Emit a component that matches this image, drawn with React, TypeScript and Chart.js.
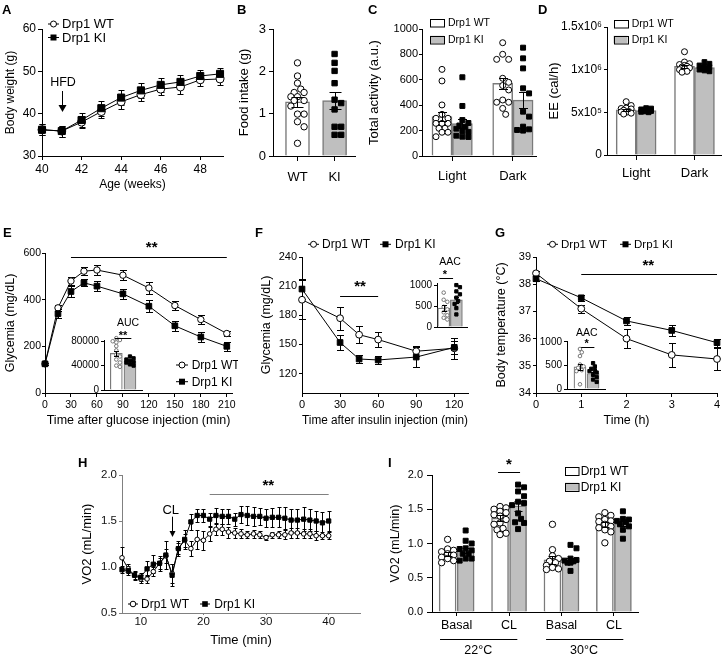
import React, { useEffect, useRef } from "react";
import { Chart, registerables } from "chart.js";

Chart.register(...registerables);

const FONT = "'Liberation Sans', Arial, Helvetica, sans-serif";
Chart.defaults.font.family = FONT;
Chart.defaults.color = "#000";

/* ================= DATA ================= */
// A – body weight
const ageWeeks = [40, 41, 42, 43, 44, 45, 46, 47, 48, 49];
const bodyWeightWT = [36.2, 35.9, 38.0, 40.5, 42.8, 44.5, 45.8, 46.3, 48.0, 48.2];
const bodyWeightWTsem = [1.3, 1.3, 1.4, 1.6, 1.7, 1.6, 1.5, 1.6, 1.4, 1.4];
const bodyWeightKI = [36.2, 35.9, 38.5, 41.3, 43.8, 45.5, 46.8, 47.5, 48.9, 49.4];
const bodyWeightKIsem = [1.3, 1.3, 1.7, 1.8, 1.8, 1.7, 1.6, 1.6, 1.3, 1.4];
const ageTicks = [40, 42, 44, 46, 48];
const bodyWeightTicks = [30, 40, 50, 60];

// B – food intake
const foodGroups = ["WT", "KI"];
const foodMean = [1.28, 1.31];
const foodSem = [0.12, 0.2];
const foodWT = [2.2, 1.89, 1.72, 1.58, 1.5, 1.5, 1.4, 1.4, 1.31, 1.31, 1.18, 0.99, 0.99, 0.81, 0.69, 0.3];
const foodKI = [2.41, 2.2, 2.01, 1.72, 1.33, 1.25, 1.1, 0.69, 0.69, 0.5, 0.5];
const foodTicks = [0, 1, 2, 3];

// C – total activity
const phases = ["Light", "Dark"];
const actMeanWT = [310, 572];
const actSemWT = [35, 45];
const actMeanKI = [255, 440];
const actSemKI = [35, 65];
const actLightWT = [682, 591, 402, 328, 297, 297, 257, 257, 257, 218, 218, 187, 187, 152];
const actLightKI = [620, 394, 283, 260, 240, 230, 215, 197, 190, 160, 152, 150];
const actDarkWT = [892, 801, 761, 761, 612, 580, 555, 520, 441, 423, 423, 375, 328];
const actDarkKI = [853, 769, 690, 533, 493, 349, 310, 231, 210, 205, 200];
const actTicks = [0, 200, 400, 600, 800, 1000];

// D – energy expenditure
const eeMeanWT = [530000, 1040000];
const eeSemWT = [12000, 18000];
const eeMeanKI = [520000, 1025000];
const eeSemKI = [8000, 10000];
const eeLightWT = [625000, 580000, 550000, 545000, 540000, 525000, 510000, 505000, 500000, 490000, 480000];
const eeLightKI = [550000, 545000, 535000, 530000, 520000, 515000, 510000, 505000, 500000];
const eeDarkWT = [1210000, 1090000, 1070000, 1060000, 1050000, 1040000, 1030000, 1020000, 1010000, 1000000, 980000, 970000];
const eeDarkKI = [1090000, 1070000, 1050000, 1040000, 1030000, 1020000, 1010000, 1000000, 990000, 980000];
const eeTicks = [0, 500000, 1000000, 1500000];
const eeTickLabels = ["0", "5x10\u2075", "1x10\u2076", "1.5x10\u2076"];

// E – GTT
const timeGTT = [0, 15, 30, 45, 60, 90, 120, 150, 180, 210];
const gttWT = [125, 365, 480, 522, 527, 505, 450, 375, 315, 255];
const gttWTsem = [5, 14, 18, 18, 20, 22, 25, 20, 18, 12];
const gttKI = [125, 340, 435, 472, 458, 425, 372, 288, 240, 200];
const gttKIsem = [5, 20, 22, 15, 20, 22, 25, 22, 22, 20];
const gttTicksX = [0, 30, 60, 90, 120, 150, 180, 210];
const gttTicksY = [0, 200, 400, 600];
const aucMean = [60000, 47000];
const aucSem = [4500, 2000];
const aucWT = [85000, 82000, 80000, 78000, 72000, 65000, 58000, 55000, 50000, 45000, 40000, 38000];
const aucKI = [55000, 52000, 50000, 48000, 46000, 45000, 42000, 40000];
const aucTicks = [0, 40000, 80000];

// F – ITT
const timeITT = [0, 30, 45, 60, 90, 120];
const ittWT = [196, 177, 160, 155, 143, 146];
const ittWTsem = [20, 12, 9, 8, 5, 11];
const ittKI = [207, 152, 135, 134, 137, 147];
const ittKIsem = [10, 8, 4, 4, 10, 7];
const ittTicksX = [0, 30, 60, 90, 120];
const ittTicksY = [120, 150, 180, 210, 240];
const ittAacMean = [450, 650];
const ittAacSem = [70, 75];
const ittAacWT = [820, 650, 600, 480, 420, 350, 280, 220, 180];
const ittAacKI = [1000, 950, 850, 780, 700, 620, 550, 450, 300];
const aacTicks = [0, 500, 1000];

// G – cold exposure
const timeCold = [0, 1, 2, 3, 4];
const tempWT = [38.4, 37.1, 36.0, 35.4, 35.25];
const tempWTsem = [0.1, 0.15, 0.35, 0.45, 0.4];
const tempKI = [38.2, 37.5, 36.65, 36.3, 35.85];
const tempKIsem = [0.1, 0.12, 0.15, 0.2, 0.15];
const coldTicksX = [0, 1, 2, 3, 4];
const coldTicksY = [34, 35, 36, 37, 38, 39];
const coldAacMean = [470, 330];
const coldAacSem = [70, 40];
const coldAacWT = [850, 780, 700, 520, 480, 450, 400, 380, 100];
const coldAacKI = [550, 480, 430, 400, 380, 350, 300, 250, 200, 150];

// H – VO2 time course
const timeH = [7, 8, 9, 10, 11, 12, 13, 14, 15, 16, 17, 18, 19, 20, 21, 22, 23, 24, 25, 26, 27, 28, 29, 30, 31, 32, 33, 34, 35, 36, 37, 38, 39, 40];
const vo2WT = [1.10, 0.98, 0.91, 0.87, 0.87, 0.95, 1.04, 1.12, 0.93, 1.20, 1.29, 1.20, 1.30, 1.29, 1.36, 1.41, 1.41, 1.38, 1.37, 1.36, 1.35, 1.36, 1.35, 1.32, 1.35, 1.35, 1.35, 1.37, 1.37, 1.36, 1.36, 1.34, 1.34, 1.34];
const vo2WTsem = [0.12, 0.05, 0.04, 0.04, 0.04, 0.05, 0.06, 0.08, 0.1, 0.08, 0.07, 0.08, 0.1, 0.1, 0.08, 0.06, 0.06, 0.06, 0.05, 0.05, 0.04, 0.04, 0.04, 0.03, 0.03, 0.04, 0.05, 0.05, 0.05, 0.05, 0.05, 0.05, 0.04, 0.04];
const vo2KI = [0.97, 0.96, 0.91, 0.89, 0.98, 1.03, 1.04, 1.13, 0.91, 1.20, 1.30, 1.49, 1.56, 1.56, 1.52, 1.56, 1.55, 1.55, 1.52, 1.57, 1.56, 1.55, 1.55, 1.53, 1.54, 1.54, 1.53, 1.51, 1.51, 1.52, 1.51, 1.50, 1.48, 1.50];
const vo2KIsem = [0.04, 0.05, 0.05, 0.04, 0.08, 0.1, 0.08, 0.15, 0.12, 0.06, 0.1, 0.09, 0.07, 0.07, 0.07, 0.08, 0.08, 0.08, 0.07, 0.09, 0.1, 0.1, 0.09, 0.1, 0.1, 0.11, 0.12, 0.12, 0.12, 0.13, 0.12, 0.11, 0.12, 0.11];
const timeHTicks = [10, 20, 30, 40];
const vo2Ticks = [0.5, 1.0, 1.5, 2.0];

// I – VO2 by condition
const conditions = ["Basal", "CL", "Basal", "CL"];
const temperatures = ["22\u00B0C", "30\u00B0C"];
const vo2CondMeanWT = [0.85, 1.37, 0.76, 1.28];
const vo2CondSemWT = [0.03, 0.04, 0.06, 0.04];
const vo2CondMeanKI = [0.9, 1.55, 0.75, 1.29];
const vo2CondSemKI = [0.04, 0.07, 0.04, 0.04];
const basal22WT = [1.06, 0.92, 0.90, 0.88, 0.85, 0.83, 0.80, 0.78, 0.75, 0.72];
const basal22KI = [1.19, 1.04, 1.00, 0.93, 0.92, 0.90, 0.85, 0.85, 0.78, 0.78, 0.75];
const cl22WT = [1.54, 1.52, 1.50, 1.47, 1.45, 1.42, 1.40, 1.35, 1.30, 1.28, 1.22, 1.20, 1.15, 1.13];
const cl22KI = [1.86, 1.82, 1.76, 1.69, 1.61, 1.59, 1.56, 1.44, 1.36, 1.31, 1.30, 1.21];
const basal30WT = [1.28, 0.91, 0.82, 0.78, 0.74, 0.72, 0.68, 0.65, 0.63, 0.62];
const basal30KI = [0.98, 0.93, 0.78, 0.76, 0.75, 0.74, 0.72, 0.72, 0.60];
const cl30WT = [1.45, 1.41, 1.39, 1.35, 1.33, 1.32, 1.28, 1.25, 1.23, 1.20, 1.17, 1.01];
const cl30KI = [1.47, 1.36, 1.35, 1.33, 1.31, 1.28, 1.25, 1.20, 1.07];
const vo2CondTicks = [0, 0.5, 1.0, 1.5, 2.0];

/* ================= LAYOUT ================= */
function geo(area: number[], canvas: number[]) {
  const [l, t, r, b] = area;
  const [cl, ct, cr, cb] = canvas;
  return { cl, ct, cw: cr - cl, ch: cb - ct, yW: l - cl, xH: cb - b, padT: t - ct, padR: cr - r };
}
const GEO: any = {
  A: geo([42, 29, 223, 156], [3, 15, 233, 192]),
  B: geo([273, 29, 355, 156], [237, 15, 361, 190]),
  C: geo([422, 29, 537, 156], [367, 12, 541, 190]),
  D: geo([607, 27, 725, 155], [547, 4, 726, 190]),
  E: geo([45, 253, 232, 393], [3, 225, 238, 428]),
  Ei: geo([104, 340, 142, 390], [66, 314, 150, 398]),
  F: geo([302, 257, 468, 393], [259, 225, 476, 428]),
  Fi: geo([437, 283, 467, 327], [405, 252, 473, 333]),
  G: geo([536, 257, 717, 393], [494, 225, 725, 428]),
  Gi: geo([567, 341, 605, 389], [535, 325, 611, 395]),
  H: geo([122, 475, 360, 613], [80, 455, 364, 648]),
  I: geo([432, 475, 638, 612], [388, 450, 648, 654]),
};

const BAR_BORDER = "#7a7a7a";
const KI_FILL = "#bfbfbf";

/* ================= HELPERS ================= */
function axis(o: any) {
  const col = o.color || "#000";
  return {
    type: "linear",
    min: o.min,
    max: o.max,
    bounds: "data",
    offset: false,
    afterBuildTicks: (s: any) => {
      s.ticks = o.ticks.map((v: number) => ({ value: v }));
    },
    afterFit: (s: any) => {
      if (o.h) s.height = o.fit;
      else s.width = o.fit;
      s.paddingLeft = 0;
      s.paddingRight = 0;
      s.paddingTop = 0;
      s.paddingBottom = 0;
    },
    grid: {
      display: true,
      drawOnChartArea: false,
      drawTicks: o.tl !== 0,
      tickLength: o.tl ?? 4,
      color: col,
      lineWidth: 1,
      offset: false,
    },
    border: { display: true, color: col, width: 1 },
    ticks: {
      display: !o.noLabels,
      autoSkip: false,
      maxRotation: 0,
      minRotation: 0,
      padding: o.pad ?? 2,
      font: { size: o.size || 12 },
      color: o.lc || "#000",
      callback: (v: number, i: number) => {
        if (o.labels) {
          const k = o.ticks.indexOf(v);
          return o.labels[k >= 0 ? k : i];
        }
        return o.fmt ? o.fmt(v) : String(v);
      },
    },
    title: o.title
      ? { display: true, text: o.title, font: { size: o.ts || 12 }, padding: 0, color: "#000" }
      : { display: false },
  };
}

function makeDeco(d: any) {
  const drawErr = (chart: any) => {
    const ctx = chart.ctx;
    const ys = chart.scales.y;
    ctx.save();
    ctx.strokeStyle = d.errColor || "#000";
    ctx.lineWidth = 1;
    chart.data.datasets.forEach((ds: any, di: number) => {
      if (!ds.errorBars) return;
      const meta = chart.getDatasetMeta(di);
      meta.data.forEach((el: any, i: number) => {
        const e = ds.errorBars[i];
        if (e == null) return;
        const v = ds.data[i].y;
        const x = Math.round(el.x) + 0.5;
        const yt = Math.round(ys.getPixelForValue(v + e)) + 0.5;
        const yb = Math.round(ys.getPixelForValue(v - e)) + 0.5;
        const c = d.cap / 2;
        ctx.beginPath();
        ctx.moveTo(x, yt);
        ctx.lineTo(x, yb);
        ctx.moveTo(x - c, yt);
        ctx.lineTo(x + c, yt);
        ctx.moveTo(x - c, yb);
        ctx.lineTo(x + c, yb);
        ctx.stroke();
      });
    });
    ctx.restore();
  };

  const swarm = (chart: any) => {
    chart.data.datasets.forEach((ds: any, di: number) => {
      const sw = ds.swarm;
      if (!sw) return;
      const pts = chart.getDatasetMeta(di).data;
      const order = pts.map((_: any, i: number) => i).sort((a: number, b: number) => pts[a].y - pts[b].y);
      const placed: any[] = [];
      for (const i of order) {
        const p = pts[i];
        const cx = p.x;
        let best = cx;
        let bestScore = -Infinity;
        for (let k = 0; k <= 14; k++) {
          const off = k === 0 ? 0 : (k % 2 ? 1 : -1) * Math.ceil(k / 2) * sw.step;
          if (Math.abs(off) > sw.max) continue;
          const x = cx + off;
          let minD = Infinity;
          for (const q of placed) {
            const dd = Math.hypot(q.x - x, q.y - p.y);
            if (dd < minD) minD = dd;
          }
          if (minD >= sw.d) {
            best = x;
            break;
          }
          if (minD > bestScore) {
            bestScore = minD;
            best = x;
          }
        }
        p.x = best;
        placed.push({ x: best, y: p.y });
      }
    });
  };

  const drawItems = (chart: any) => {
    const ctx = chart.ctx;
    const xs = chart.scales.x;
    const ys = chart.scales.y;
    const X = (it: any, v: number) => (it.xd ? xs.getPixelForValue(v) : v - d.ox);
    const Y = (it: any, v: number) => (it.yd ? ys.getPixelForValue(v) : v - d.oy);
    for (const it of d.items || []) {
      ctx.save();
      if (it.t === "text") {
        const size = it.size || 12;
        ctx.font = `${it.bold ? "bold " : ""}${size}px ${FONT}`;
        ctx.fillStyle = it.color || "#000";
        ctx.textAlign = it.align || "center";
        if (it.star) {
          ctx.textBaseline = "alphabetic";
          ctx.fillText(it.text, X(it, it.x), Y(it, it.y) + 0.56 * size);
        } else {
          ctx.textBaseline = "middle";
          ctx.fillText(it.text, X(it, it.x), Y(it, it.y));
        }
      } else if (it.t === "hline") {
        ctx.strokeStyle = it.color || "#000";
        ctx.lineWidth = it.w || 1;
        const y = Math.round(Y(it, it.y)) + 0.5;
        ctx.beginPath();
        ctx.moveTo(X(it, it.x1), y);
        ctx.lineTo(X(it, it.x2), y);
        ctx.stroke();
      } else if (it.t === "arrow") {
        const x = Math.round(X(it, it.x)) + 0.5;
        const y1 = Y(it, it.y1);
        const y2 = Y(it, it.y2);
        const hl = it.head || 7;
        const hw = it.hw || 4;
        ctx.strokeStyle = "#000";
        ctx.fillStyle = "#000";
        ctx.lineWidth = 1;
        ctx.beginPath();
        ctx.moveTo(x, y1);
        ctx.lineTo(x, y2 - hl + 1);
        ctx.stroke();
        ctx.beginPath();
        ctx.moveTo(x - hw, y2 - hl);
        ctx.lineTo(x + hw, y2 - hl);
        ctx.lineTo(x, y2);
        ctx.closePath();
        ctx.fill();
      } else if (it.t === "lleg") {
        const x = it.x - d.ox;
        const y = it.y - d.oy;
        const L = it.len || 11;
        const r = it.r || 3;
        ctx.strokeStyle = "#000";
        ctx.lineWidth = 1;
        ctx.beginPath();
        ctx.moveTo(x, y);
        ctx.lineTo(x + L, y);
        ctx.stroke();
        const cx = x + L / 2;
        if (it.wt) {
          ctx.beginPath();
          ctx.arc(cx, y, r, 0, Math.PI * 2);
          ctx.fillStyle = "#fff";
          ctx.fill();
          ctx.stroke();
        } else {
          ctx.fillStyle = "#000";
          ctx.fillRect(cx - r, y - r, 2 * r, 2 * r);
        }
        ctx.font = `${it.size || 12}px ${FONT}`;
        ctx.fillStyle = "#000";
        ctx.textAlign = "left";
        ctx.textBaseline = "middle";
        ctx.fillText(it.text, it.tx - d.ox, y + 0.5);
      } else if (it.t === "bleg") {
        const x = it.x - d.ox;
        const y = it.y - d.oy;
        ctx.fillStyle = it.fill;
        ctx.fillRect(x, y - it.h / 2, it.w, it.h);
        ctx.strokeStyle = "#000";
        ctx.lineWidth = 1;
        ctx.strokeRect(Math.round(x) + 0.5, Math.round(y - it.h / 2) + 0.5, it.w, it.h);
        ctx.font = `${it.size || 12}px ${FONT}`;
        ctx.fillStyle = "#000";
        ctx.textAlign = "left";
        ctx.textBaseline = "middle";
        ctx.fillText(it.text, it.tx - d.ox, y + 0.5);
      }
      ctx.restore();
    }
  };

  return {
    id: "deco",
    afterDatasetsUpdate: (chart: any) => swarm(chart),
    beforeDatasetsDraw: (chart: any) => {
      if (!d.errTop) drawErr(chart);
    },
    afterDatasetsDraw: (chart: any) => {
      if (d.errTop) drawErr(chart);
      drawItems(chart);
    },
  };
}

function cfg(g: any, type: string, datasets: any[], xo: any, yo: any, d: any) {
  return {
    type,
    data: { datasets },
    options: {
      responsive: false,
      animation: false,
      events: [],
      devicePixelRatio: 1,
      layout: { padding: { left: 0, top: g.padT, right: g.padR, bottom: 0 } },
      plugins: { legend: { display: false }, tooltip: { enabled: false }, title: { display: false } },
      scales: {
        x: axis({ ...xo, h: true, fit: g.xH }),
        y: axis({ ...yo, h: false, fit: g.yW }),
      },
    },
    plugins: [makeDeco({ cap: 6, errTop: false, items: [], ...d, ox: g.cl, oy: g.ct })],
  };
}

function lineSet(xs: number[], ys: number[], sem: number[], wt: boolean, r: number, lw = 1) {
  return {
    type: "line",
    data: xs.map((x, i) => ({ x, y: ys[i] })),
    errorBars: sem,
    borderColor: "#000",
    borderWidth: lw,
    pointStyle: wt ? "circle" : "rect",
    pointRadius: r,
    pointHoverRadius: r,
    pointBorderColor: "#000",
    pointBackgroundColor: wt ? "#fff" : "#000",
    pointBorderWidth: 1,
    backgroundColor: wt ? "#fff" : "#000",
    tension: 0,
    fill: false,
    clip: false,
    order: wt ? 2 : 1,
  };
}

function barSet(xs: number[], means: number[], sem: number[], ki: boolean, bt: number, bw = 1.5) {
  return {
    type: "bar",
    data: xs.map((x, i) => ({ x, y: means[i] })),
    errorBars: sem,
    backgroundColor: ki ? KI_FILL : "#fff",
    borderColor: BAR_BORDER,
    borderWidth: bw,
    barThickness: bt,
    grouped: false,
    borderSkipped: "start",
    order: 5,
  };
}

function dotSet(x: number, values: number[], ki: boolean, r: number, sw: any, light = false) {
  return {
    type: "scatter",
    data: values.map((v) => ({ x, y: v })),
    pointStyle: ki ? "rect" : "circle",
    pointRadius: r,
    pointHoverRadius: r,
    pointBackgroundColor: ki ? "#000" : "#fff",
    pointBorderColor: light ? "#777" : "#000",
    pointBorderWidth: 1,
    showLine: false,
    clip: false,
    swarm: sw,
    order: 2,
  };
}

/* ================= PANELS ================= */
const makeA = () =>
  cfg(
    GEO.A,
    "line",
    [lineSet(ageWeeks, bodyWeightWT, bodyWeightWTsem, true, 4), lineSet(ageWeeks, bodyWeightKI, bodyWeightKIsem, false, 5)],
    { min: 40, max: 49.15, ticks: ageTicks, size: 12, title: "Age (weeks)", ts: 12, tl: 4, pad: 2 },
    { min: 30, max: 60, ticks: bodyWeightTicks, size: 12, title: "Body weight (g)", ts: 12, tl: 4, pad: 2 },
    {
      cap: 6,
      items: [
        { t: "text", x: 63, y: 83, text: "HFD", size: 12.5 },
        { t: "arrow", x: 41, xd: true, y1: 91, y2: 112, head: 7, hw: 4 },
        { t: "lleg", x: 48, y: 24, tx: 62, text: "Drp1 WT", wt: true, size: 13, r: 3 },
        { t: "lleg", x: 48, y: 37.5, tx: 62, text: "Drp1 KI", wt: false, size: 13, r: 3 },
      ],
    }
  );

const SW_B = { d: 6.5, step: 3.3, max: 9 };
const makeB = () =>
  cfg(
    GEO.B,
    "bar",
    [
      dotSet(0, foodWT, false, 3.2, SW_B),
      dotSet(1, foodKI, true, 3.8, SW_B),
      barSet([0], [foodMean[0]], [foodSem[0]], false, 24),
      barSet([1], [foodMean[1]], [foodSem[1]], true, 24),
    ],
    { min: -0.66, max: 1.55, ticks: [0, 1], labels: foodGroups, size: 13, tl: 5, pad: 9 },
    { min: 0, max: 3, ticks: foodTicks, size: 13, title: "Food intake (g)", ts: 13, tl: 4, pad: 3 },
    { cap: 12, errTop: true }
  );

const OFF_C = 0.168;
const SW_C = { d: 6, step: 3, max: 7 };
const makeC = () =>
  cfg(
    GEO.C,
    "bar",
    [
      dotSet(0 - OFF_C, actLightWT, false, 3, SW_C),
      dotSet(1 - OFF_C, actDarkWT, false, 3, SW_C),
      dotSet(0 + OFF_C, actLightKI, true, 3.5, SW_C),
      dotSet(1 + OFF_C, actDarkKI, true, 3.5, SW_C),
      barSet([0 - OFF_C, 1 - OFF_C], actMeanWT, actSemWT, false, 20),
      barSet([0 + OFF_C, 1 + OFF_C], actMeanKI, actSemKI, true, 20),
    ],
    { min: -0.497, max: 1.389, ticks: [0, 1], labels: phases, size: 13, tl: 5, pad: 8 },
    { min: 0, max: 1000, ticks: actTicks, size: 11, title: "Total activity (a.u.)", ts: 13, tl: 3, pad: 1 },
    {
      cap: 9,
      errTop: true,
      items: [
        { t: "bleg", x: 430, y: 23, w: 14, h: 7.5, fill: "#fff", tx: 448, text: "Drp1 WT", size: 10.5 },
        { t: "bleg", x: 430, y: 39.5, w: 14, h: 7.5, fill: KI_FILL, tx: 448, text: "Drp1 KI", size: 10.5 },
      ],
    }
  );

const OFF_D = 0.171;
const SW_D = { d: 5, step: 2.5, max: 6 };
const makeD = () =>
  cfg(
    GEO.D,
    "bar",
    [
      dotSet(0 - OFF_D, eeLightWT, false, 3, SW_D),
      dotSet(1 - OFF_D, eeDarkWT, false, 3, SW_D),
      dotSet(0 + OFF_D, eeLightKI, true, 3.3, SW_D),
      dotSet(1 + OFF_D, eeDarkKI, true, 3.3, SW_D),
      barSet([0 - OFF_D, 1 - OFF_D], eeMeanWT, eeSemWT, false, 20),
      barSet([0 + OFF_D, 1 + OFF_D], eeMeanKI, eeSemKI, true, 20),
    ],
    { min: -0.5, max: 1.467, ticks: [0, 1], labels: phases, size: 13, tl: 5, pad: 6 },
    { min: 0, max: 1500000, ticks: eeTicks, labels: eeTickLabels, size: 12, title: "EE (cal/h)", ts: 13, tl: 3, pad: 2 },
    {
      cap: 8,
      errTop: true,
      items: [
        { t: "bleg", x: 613.5, y: 23.5, w: 14, h: 7.5, fill: "#fff", tx: 631.7, text: "Drp1 WT", size: 10.5 },
        { t: "bleg", x: 613.5, y: 39.5, w: 14, h: 7.5, fill: KI_FILL, tx: 631.7, text: "Drp1 KI", size: 10.5 },
      ],
    }
  );

const makeE = () =>
  cfg(
    GEO.E,
    "line",
    [lineSet(timeGTT, gttWT, gttWTsem, true, 3.2), lineSet(timeGTT, gttKI, gttKIsem, false, 4)],
    { min: 0, max: 216, ticks: gttTicksX, size: 10.5, title: "Time after glucose injection (min)", ts: 12.5, tl: 4, pad: 2 },
    { min: 0, max: 600, ticks: gttTicksY, size: 10.5, title: "Glycemia (mg/dL)", ts: 12.5, tl: 3, pad: 1 },
    {
      cap: 7,
      items: [
        { t: "text", x: 151.7, y: 243.3, text: "**", size: 15, bold: true, star: true },
        { t: "hline", x1: 30, x2: 210, xd: true, y: 257.3 },
        { t: "lleg", x: 176, y: 365, tx: 191.7, text: "Drp1 WT", wt: true, size: 12, r: 3, len: 12 },
        { t: "lleg", x: 176, y: 381.7, tx: 191.7, text: "Drp1 KI", wt: false, size: 12, r: 3, len: 12 },
      ],
    }
  );

const SW_IN = { d: 3.6, step: 1.8, max: 4 };
const makeEi = () =>
  cfg(
    GEO.Ei,
    "bar",
    [
      dotSet(0, aucWT, false, 1.8, SW_IN, true),
      dotSet(1, aucKI, true, 2.3, SW_IN),
      barSet([0], [aucMean[0]], [aucSem[0]], false, 12, 1.2),
      barSet([1], [aucMean[1]], [aucSem[1]], true, 12, 1.2),
    ],
    { min: -0.9, max: 1.88, ticks: [0], noLabels: true, tl: 0 },
    { min: 0, max: 82000, ticks: aucTicks, size: 10, tl: 3, pad: 2 },
    {
      cap: 5,
      errTop: true,
      items: [
        { t: "text", x: 128, y: 323, text: "AUC", size: 10.5 },
        { t: "text", x: 123, y: 332.7, text: "**", size: 11, bold: true, star: true },
        { t: "hline", x1: -0.1, x2: 1.1, xd: true, y: 338.3 },
      ],
    }
  );

const makeF = () =>
  cfg(
    GEO.F,
    "line",
    [lineSet(timeITT, ittWT, ittWTsem, true, 3.4), lineSet(timeITT, ittKI, ittKIsem, false, 4)],
    { min: 0, max: 130.8, ticks: ittTicksX, size: 11, title: "Time after insulin injection (min)", ts: 12.5, tl: 4, pad: 1 },
    { min: 100, max: 240, ticks: ittTicksY, size: 11, title: "Glycemia (mg/dL)", ts: 12.5, tl: 3, pad: 2 },
    {
      cap: 7,
      items: [
        { t: "text", x: 360, y: 283, text: "**", size: 15, bold: true, star: true },
        { t: "hline", x1: 30, x2: 60, xd: true, y: 296 },
        { t: "lleg", x: 308, y: 244.3, tx: 322, text: "Drp1 WT", wt: true, size: 12, r: 3 },
        { t: "lleg", x: 380, y: 244.3, tx: 395, text: "Drp1 KI", wt: false, size: 12, r: 3 },
      ],
    }
  );

const makeFi = () =>
  cfg(
    GEO.Fi,
    "bar",
    [
      dotSet(0, ittAacWT, false, 1.8, SW_IN, true),
      dotSet(1, ittAacKI, true, 2.3, SW_IN),
      barSet([0], [ittAacMean[0]], [ittAacSem[0]], false, 12, 1.2),
      barSet([1], [ittAacMean[1]], [ittAacSem[1]], true, 12, 1.2),
    ],
    { min: -0.53, max: 1.84, ticks: [0], noLabels: true, tl: 0 },
    { min: 0, max: 1050, ticks: aacTicks, size: 10, tl: 3, pad: 2 },
    {
      cap: 5,
      errTop: true,
      items: [
        { t: "text", x: 450, y: 261.7, text: "AAC", size: 10.5 },
        { t: "text", x: 445, y: 271.7, text: "*", size: 11, bold: true, star: true },
        { t: "hline", x1: -0.35, x2: 0.74, xd: true, y: 277.7 },
      ],
    }
  );

const makeG = () =>
  cfg(
    GEO.G,
    "line",
    [lineSet(timeCold, tempWT, tempWTsem, true, 3.4), lineSet(timeCold, tempKI, tempKIsem, false, 4)],
    { min: 0, max: 4, ticks: coldTicksX, size: 11, title: "Time (h)", ts: 12.5, tl: 4, pad: 1 },
    { min: 34, max: 39, ticks: coldTicksY, size: 11, title: "Body temperature (\u00B0C)", ts: 12.5, tl: 3, pad: 2 },
    {
      cap: 7,
      items: [
        { t: "text", x: 648.3, y: 261.7, text: "**", size: 15, bold: true, star: true },
        { t: "hline", x1: 1, x2: 4, xd: true, y: 274.3 },
        { t: "lleg", x: 547, y: 244.3, tx: 561, text: "Drp1 WT", wt: true, size: 11.5, r: 3 },
        { t: "lleg", x: 620, y: 244.3, tx: 634, text: "Drp1 KI", wt: false, size: 11.5, r: 3 },
      ],
    }
  );

const makeGi = () =>
  cfg(
    GEO.Gi,
    "bar",
    [
      dotSet(0, coldAacWT, false, 1.8, SW_IN, true),
      dotSet(1, coldAacKI, true, 2.3, SW_IN),
      barSet([0], [coldAacMean[0]], [coldAacSem[0]], false, 12, 1.2),
      barSet([1], [coldAacMean[1]], [coldAacSem[1]], true, 12, 1.2),
    ],
    { min: -0.99, max: 1.91, ticks: [0], noLabels: true, tl: 0 },
    { min: 0, max: 1020, ticks: aacTicks, size: 10, tl: 3, pad: 2 },
    {
      cap: 5,
      errTop: true,
      items: [
        { t: "text", x: 586.7, y: 333.3, text: "AAC", size: 10.5 },
        { t: "text", x: 586.7, y: 340.7, text: "*", size: 11, bold: true, star: true },
        { t: "hline", x1: 0.09, x2: 1.1, xd: true, y: 347.3 },
      ],
    }
  );

const H_AXIS = "#808080";
const makeH = () =>
  cfg(
    GEO.H,
    "line",
    [lineSet(timeH, vo2WT, vo2WTsem, true, 2.3), lineSet(timeH, vo2KI, vo2KIsem, false, 3)],
    { min: 7, max: 45, ticks: timeHTicks, size: 11.5, title: "Time (min)", ts: 13, tl: 2, pad: 0, color: H_AXIS, lc: "#111" },
    { min: 0.5, max: 2.0, ticks: vo2Ticks, fmt: (v: number) => v.toFixed(1), size: 11.5, title: "VO2 (mL/min)", ts: 13, tl: 3, pad: 2, color: H_AXIS, lc: "#111" },
    {
      cap: 4,
      items: [
        { t: "text", x: 170.7, y: 510, text: "CL", size: 13 },
        { t: "arrow", x: 15, xd: true, y1: 516.7, y2: 537, head: 6, hw: 3 },
        { t: "text", x: 268.3, y: 481.7, text: "**", size: 15, bold: true, star: true },
        { t: "hline", x1: 21, x2: 40, xd: true, y: 494, color: H_AXIS },
        { t: "lleg", x: 128, y: 604, tx: 141, text: "Drp1 WT", wt: true, size: 12, r: 2.8, len: 10 },
        { t: "lleg", x: 200, y: 604, tx: 214.3, text: "Drp1 KI", wt: false, size: 12, r: 2.8, len: 10 },
      ],
    }
  );

const OFF_I = 0.172;
const SW_I = { d: 6, step: 3, max: 6 };
const makeI = () =>
  cfg(
    GEO.I,
    "bar",
    [
      dotSet(0 - OFF_I, basal22WT, false, 3.2, SW_I),
      dotSet(1 - OFF_I, cl22WT, false, 3.2, SW_I),
      dotSet(2 - OFF_I, basal30WT, false, 3.2, SW_I),
      dotSet(3 - OFF_I, cl30WT, false, 3.2, SW_I),
      dotSet(0 + OFF_I, basal22KI, true, 3.5, SW_I),
      dotSet(1 + OFF_I, cl22KI, true, 3.5, SW_I),
      dotSet(2 + OFF_I, basal30KI, true, 3.5, SW_I),
      dotSet(3 + OFF_I, cl30KI, true, 3.5, SW_I),
      barSet([0, 1, 2, 3].map((v) => v - OFF_I), vo2CondMeanWT, vo2CondSemWT, false, 17),
      barSet([0, 1, 2, 3].map((v) => v + OFF_I), vo2CondMeanKI, vo2CondSemKI, true, 17),
    ],
    { min: -0.47, max: 3.46, ticks: [0, 1, 2, 3], labels: conditions, size: 12.5, tl: 4, pad: 2 },
    { min: 0, max: 2, ticks: vo2CondTicks, fmt: (v: number) => v.toFixed(1), size: 11, title: "VO2 (mL/min)", ts: 12.5, tl: 5, pad: 4 },
    {
      cap: 8,
      errTop: true,
      items: [
        { t: "text", x: 509, y: 460.7, text: "*", size: 15, bold: true, star: true },
        { t: "hline", x1: 0.79, x2: 1.21, xd: true, y: 472.3 },
        { t: "hline", x1: -0.317, x2: 1.158, xd: true, y: 639.3 },
        { t: "hline", x1: 1.706, x2: 3.18, xd: true, y: 639.3 },
        { t: "text", x: 0.414, xd: true, y: 650.5, text: temperatures[0], size: 12.5 },
        { t: "text", x: 2.43, xd: true, y: 650.5, text: temperatures[1], size: 12.5 },
        { t: "bleg", x: 565, y: 471.3, w: 13.5, h: 8, fill: "#fff", tx: 580.7, text: "Drp1 WT", size: 12 },
        { t: "bleg", x: 565, y: 486.7, w: 13.5, h: 8, fill: KI_FILL, tx: 580.7, text: "Drp1 KI", size: 12 },
      ],
    }
  );

/* ================= COMPONENTS ================= */
function Panel({ g, make }: { g: any; make: () => any }) {
  const ref = useRef<HTMLCanvasElement>(null);
  useEffect(() => {
    const chart = new Chart(ref.current as HTMLCanvasElement, make() as any);
    return () => chart.destroy();
  }, []);
  return (
    <canvas
      ref={ref}
      width={g.cw}
      height={g.ch}
      style={{ position: "absolute", left: g.cl, top: g.ct, width: g.cw, height: g.ch }}
    />
  );
}

const LETTERS: [string, number, number][] = [
  ["A", 2, 3],
  ["B", 237, 3],
  ["C", 368, 3],
  ["D", 538, 3],
  ["E", 3, 226],
  ["F", 255, 226],
  ["G", 495, 226],
  ["H", 78, 456],
  ["I", 388, 456],
];

export default function App() {
  return (
    <div
      style={{
        position: "absolute",
        left: 0,
        top: 0,
        width: 727,
        height: 654,
        background: "#fff",
        overflow: "hidden",
        fontFamily: FONT,
      }}
    >
      <Panel g={GEO.A} make={makeA} />
      <Panel g={GEO.B} make={makeB} />
      <Panel g={GEO.C} make={makeC} />
      <Panel g={GEO.D} make={makeD} />
      <Panel g={GEO.E} make={makeE} />
      <Panel g={GEO.F} make={makeF} />
      <Panel g={GEO.G} make={makeG} />
      <Panel g={GEO.H} make={makeH} />
      <Panel g={GEO.I} make={makeI} />
      <Panel g={GEO.Ei} make={makeEi} />
      <Panel g={GEO.Fi} make={makeFi} />
      <Panel g={GEO.Gi} make={makeGi} />
      {LETTERS.map(([t, x, y]) => (
        <span
          key={t}
          style={{ position: "absolute", left: x, top: y, font: `bold 13px ${FONT}`, lineHeight: "13px", color: "#000" }}
        >
          {t}
        </span>
      ))}
    </div>
  );
}
